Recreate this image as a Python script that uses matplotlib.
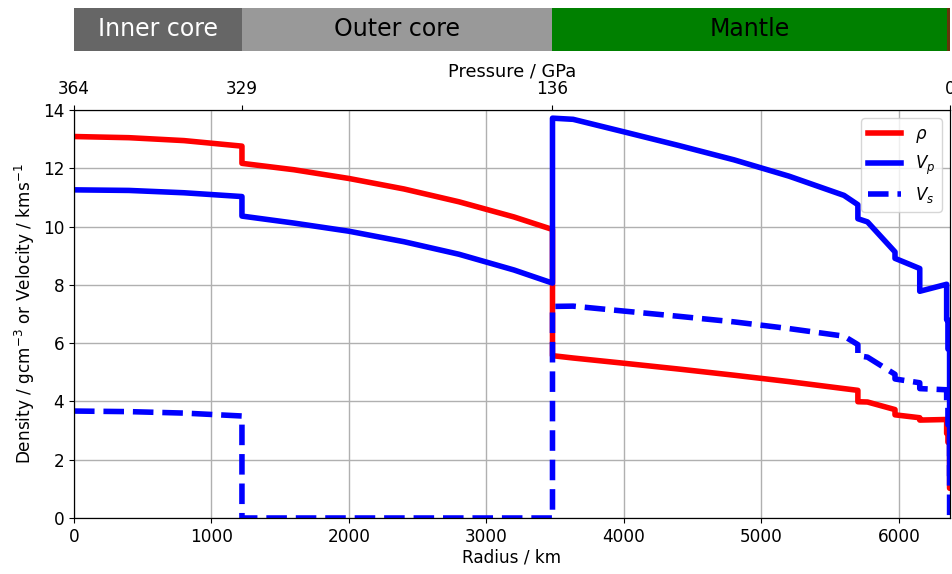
import matplotlib.pyplot as plt

# --- PREM profile (radius in km) ---
radius = [0, 400, 800, 1221.5,
          1221.5, 1600, 2000, 2400, 2800, 3200, 3480,
          3480, 3630, 4000, 4400, 4800, 5200, 5600, 5701,
          5701, 5771, 5971,
          5971, 6151,
          6151, 6346.6,
          6346.6, 6356,
          6356, 6368,
          6368, 6371]

density = [13.09, 13.05, 12.95, 12.76,
           12.17, 11.95, 11.65, 11.29, 10.85, 10.33, 9.90,
           5.57, 5.49, 5.31, 5.11, 4.90, 4.68, 4.44, 4.38,
           3.99, 3.98, 3.72,
           3.54, 3.44,
           3.36, 3.38,
           2.90, 2.90,
           2.60, 2.60,
           1.02, 1.02]

vp = [11.26, 11.24, 11.16, 11.03,
      10.36, 10.12, 9.84, 9.48, 9.05, 8.51, 8.06,
      13.72, 13.68, 13.25, 12.78, 12.29, 11.73, 11.07, 10.75,
      10.27, 10.16, 9.13,
      8.91, 8.56,
      7.78, 8.02,
      6.80, 6.80,
      5.80, 5.80,
      1.45, 1.45]

vs = [3.67, 3.65, 3.60, 3.50,
      0, 0, 0, 0, 0, 0, 0,
      7.26, 7.27, 7.10, 6.92, 6.73, 6.50, 6.24, 5.95,
      5.57, 5.52, 4.93,
      4.77, 4.64,
      4.44, 4.40,
      3.90, 3.90,
      3.20, 3.20,
      0, 0]

# Strati (barra in alto)
layer_names = ["Inner core", "Outer core", "Mantle", ""]
layer_start = [0, 1221.5, 3480, 6346.6]
layer_end = [1221.5, 3480, 6346.6, 6371]
layer_colors = ["#666666", "#999999", "#008000", "#66330a"]
layer_text_colors = ["white", "black", "black", "black"]

# Asse pressione
pressure_radius = [0, 1221.5, 3480, 6371]
pressure_labels = ["364", "329", "136", "0"]

R_EARTH = 6371
FS = 12.2

fig = plt.figure(figsize=(9.52, 5.74), dpi=100)
ax = fig.add_axes([74 / 952, 1 - 518 / 574, 876 / 952, 408 / 574])

ax.plot(radius, density, color="red", lw=4, label=r"$\rho$")
ax.plot(radius, vp, color="blue", lw=4, label=r"$V_p$")
ax.plot(radius, vs, color="blue", lw=4, ls="--", label=r"$V_s$")

ax.set_xlim(0, R_EARTH)
ax.set_ylim(0, 14)
ax.set_xticks(range(0, 7000, 1000))
ax.set_yticks(range(0, 15, 2))
ax.tick_params(labelsize=FS)
ax.set_xlabel("Radius / km", fontsize=FS, labelpad=2)
ax.set_ylabel(r"Density / gcm$^{-3}$ or Velocity / kms$^{-1}$", fontsize=FS, labelpad=4)
ax.grid(True, color="#b0b0b0", lw=1)
ax.legend(loc="upper right", fontsize=12, handlelength=2.0)

# Asse superiore con la pressione
ax_top = ax.twiny()
ax_top.set_xlim(ax.get_xlim())
ax_top.set_xticks(pressure_radius)
ax_top.set_xticklabels(pressure_labels)
ax_top.tick_params(labelsize=FS, pad=5)
ax_top.set_xlabel("Pressure / GPa", fontsize=12.8, labelpad=3)

# Barra degli strati
ax_bar = fig.add_axes([74 / 952, 1 - 51 / 574, 876 / 952, 43 / 574])
for name, start, end, col, tcol in zip(layer_names, layer_start, layer_end,
                                       layer_colors, layer_text_colors):
    ax_bar.barh(0, end - start, left=start, height=1, color=col)
    if name:
        ax_bar.text((start + end) / 2, 0, name, ha="center", va="center",
                    color=tcol, fontsize=17)
ax_bar.set_xlim(0, R_EARTH)
ax_bar.set_ylim(-0.5, 0.5)
ax_bar.axis("off")

fig.savefig("out.png", dpi=100)
